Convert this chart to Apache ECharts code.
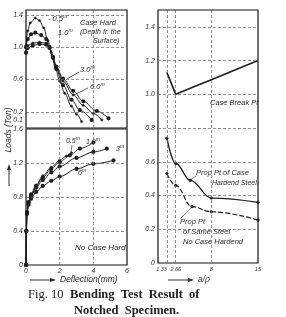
<!DOCTYPE html>
<html><head><meta charset="utf-8">
<script src="https://cdn.jsdelivr.net/npm/echarts@6/dist/echarts.min.js"></script>
<style>html,body{margin:0;padding:0;background:#fff}#c{width:286px;height:317px}</style>
</head><body><div id="c"></div>
<script>
// ---- Data: left top panel (Case Hard, depth from surface), Load (Ton) vs Deflection (mm)
const caseHard05 = [[0,1.02],[0.1,1.2],[0.25,1.3],[0.55,1.36],[0.8,1.33],[1.05,1.24],[1.3,1.08],[1.5,0.93],[1.75,0.74],[2.0,0.58],[2.3,0.43],[2.7,0.27],[3.0,0.17],[3.3,0.08]];
const caseHard10 = [[0,1.0],[0.1,1.1],[0.3,1.16],[0.55,1.18],[0.9,1.15],[1.2,1.1],[1.4,1.0],[1.6,0.87],[1.8,0.73],[2.2,0.53],[2.7,0.35],[3.2,0.22],[3.9,0.1]];
const caseHard30 = [[0,0.95],[0.1,1.02],[0.4,1.05],[0.8,1.06],[1.2,1.05],[1.4,1.0],[1.6,0.88],[1.8,0.75],[2.2,0.58],[2.8,0.41],[3.4,0.28],[4.0,0.18],[4.5,0.1]];
const caseHard60 = [[0,0.93],[0.1,0.99],[0.4,1.02],[0.8,1.04],[1.2,1.03],[1.4,0.99],[1.6,0.88],[1.8,0.76],[2.2,0.61],[2.8,0.46],[3.4,0.33],[4.2,0.21],[4.9,0.12]];
// ---- Data: left bottom panel (No Case Hard)
const noCase05 = [[0,0],[0.02,0.4],[0.06,0.62],[0.15,0.74],[0.3,0.83],[0.6,0.94],[1.0,1.05],[1.5,1.15],[2.0,1.23],[2.4,1.28],[2.7,1.32]];
const noCase10 = [[0,0],[0.02,0.4],[0.06,0.62],[0.15,0.74],[0.3,0.83],[0.6,0.93],[1.0,1.03],[1.5,1.13],[2.0,1.21],[2.6,1.29],[3.2,1.37],[4.0,1.44]];
const noCase30 = [[0,0],[0.02,0.4],[0.06,0.62],[0.15,0.73],[0.3,0.81],[0.6,0.91],[1.0,1.0],[1.5,1.09],[2.0,1.16],[3.0,1.26],[4.0,1.33],[4.8,1.37]];
const noCase60 = [[0,0],[0.02,0.4],[0.06,0.6],[0.15,0.71],[0.3,0.78],[0.6,0.86],[1.0,0.93],[1.5,0.99],[2.0,1.04],[3.0,1.13],[4.0,1.19],[5.2,1.23]];
// ---- Data: right panel, Load (Ton) vs a/rho
const breakX = [1.33, 2.66, 5.1, 8, 15];
const caseBreakPt = [1.13, 1.0, 1.04, 1.087, 1.2];
const propCaseX = [1.33, 2.66, 4.85, 8, 15];
const propCaseHard = [0.74, 0.59, 0.49, 0.385, 0.36];
const propNoCaseX = [1.33, 2.66, 5.1, 8, 15];
const propNoCase = [0.53, 0.46, 0.334, 0.304, 0.255];
// ---- Ticks
const leftXTicks = [0, 2, 4, 6];
const leftXLabels = ['0', '2', '4', '6'];
const topYTicks = [0.1, 0.2, 0.6, 1.0, 1.4];
const topYLabels = ['0.1', '0.2', '0.6', '1.0', '1.4'];
const topYGrid = [0.2, 0.6, 1.0, 1.4];
const botYTicks = [0, 0.4, 0.8, 1.2, 1.6];
const botYLabels = ['0', '0.4', '0.8', '1.2', '1.6'];
const botYGrid = [0.4, 0.8, 1.2];
const leftXGrid = [2, 4];
const rightXTicksA = [8, 15];
const rightXLabelsA = ['8', '15'];
const rightXTicksB = [1.33];
const rightXLabelsB = ['1.33'];
const rightXTicksC = [2.66];
const rightXLabelsC = ['2.66'];
const rightXGrid = [1.33, 2.66, 8];
const rightYTicks = [0, 0.2, 0.4, 0.6, 0.8, 1.0, 1.2, 1.4];
const rightYLabels = ['0', '0.2', '0.4', '0.6', '0.8', '1.0', '1.2', '1.4'];
const rightYGrid = [0.2, 0.4, 0.6, 0.8, 1.0, 1.2, 1.4];

const INK = '#1e1e1e';
const FONT = 'Liberation Sans';
const zip = (xs, ys) => xs.map((x, i) => [x, ys[i]]);
const lookup = (vals, labs) => v => { const i = vals.findIndex(t => Math.abs(t - v) < 1e-6); return i >= 0 ? labs[i] : ''; };

const axisLab = (vals, labs, extra) => Object.assign({
  customValues: vals, formatter: lookup(vals, labs), color: '#333',
  fontStyle: 'italic', fontSize: 7, fontFamily: FONT, margin: 3,
  hideOverlap: false, showMinLabel: true, showMaxLabel: true
}, extra || {});

const gridLines = (xs, ys) => ({
  silent: true, symbol: 'none', label: { show: false },
  lineStyle: { color: '#666', type: [3, 2], width: 0.7 },
  data: xs.map(x => ({ xAxis: x })).concat(ys.map(y => ({ yAxis: y })))
});

const lineSeries = (data, xi, yi, sym, opts) => Object.assign({
  type: 'line', data, xAxisIndex: xi, yAxisIndex: yi, smooth: 0.35, smoothMonotone: 'x',
  symbol: sym, symbolSize: 2.2, showSymbol: true,
  lineStyle: { color: INK, width: 1 }, itemStyle: { color: INK, borderColor: INK, borderWidth: 0.6 },
  animation: false, silent: true
}, opts || {});

const gridCommon = { show: true, borderColor: '#111', borderWidth: 1.2, backgroundColor: 'transparent', containLabel: false };
const bareAxis = { axisTick: { show: false }, splitLine: { show: false }, axisLine: { show: false } };

const txtFont = (sz) => 'italic ' + sz + 'px "' + FONT + '"';
const T = (x, y, text, sz, extra) => ({ type: 'text', x, y, silent: true,
  style: Object.assign({ text, fill: '#2a2a2a', font: txtFont(sz || 7.5), verticalAlign: 'middle', align: 'left',
    rich: { s: { font: txtFont(5), padding: [0, 0, 4, 0], fill: '#2a2a2a' } } }, extra || {}) });
const L = (pts, w) => ({ type: 'polyline', silent: true, shape: { points: pts }, style: { stroke: '#2a2a2a', lineWidth: w || 0.8, fill: null } });
const P = (pts) => ({ type: 'polygon', silent: true, shape: { points: pts }, style: { fill: '#2a2a2a' } });

const option = {
  backgroundColor: '#fff',
  animation: false,
  grid: [
    Object.assign({ left: 26, top: 10, width: 101, height: 118 }, gridCommon),
    Object.assign({ left: 26, top: 129, width: 101, height: 136 }, gridCommon),
    Object.assign({ left: 158, top: 10, width: 100, height: 253 }, gridCommon)
  ],
  xAxis: [
    Object.assign({ gridIndex: 0, type: 'value', min: 0, max: 6, axisLabel: { show: false } }, bareAxis),
    Object.assign({ gridIndex: 1, type: 'value', min: 0, max: 6, axisLabel: axisLab(leftXTicks, leftXLabels) }, bareAxis),
    Object.assign({ gridIndex: 2, type: 'value', min: 0, max: 15, axisLabel: axisLab(rightXTicksA, rightXLabelsA, { fontSize: 6 }) }, bareAxis),
    Object.assign({ gridIndex: 2, type: 'value', min: 0, max: 15, position: 'bottom', axisLabel: axisLab(rightXTicksB, rightXLabelsB, { fontSize: 5.5, align: 'right' }) }, bareAxis),
    Object.assign({ gridIndex: 2, type: 'value', min: 0, max: 15, position: 'bottom', axisLabel: axisLab(rightXTicksC, rightXLabelsC, { fontSize: 5.5 }) }, bareAxis)
  ],
  yAxis: [
    Object.assign({ gridIndex: 0, type: 'value', min: 0, max: 1.46, axisLabel: axisLab(topYTicks, topYLabels) }, bareAxis),
    Object.assign({ gridIndex: 1, type: 'value', min: 0, max: 1.6, axisLabel: axisLab(botYTicks, botYLabels) }, bareAxis),
    Object.assign({ gridIndex: 2, type: 'value', min: 0, max: 1.5, axisLabel: axisLab(rightYTicks, rightYLabels) }, bareAxis)
  ],
  series: [
    lineSeries(caseHard05, 0, 0, 'circle', { markLine: gridLines(leftXGrid, topYGrid) }),
    lineSeries(caseHard10, 0, 0, 'emptyCircle'),
    lineSeries(caseHard30, 0, 0, 'circle'),
    lineSeries(caseHard60, 0, 0, 'emptyCircle'),
    lineSeries(noCase05, 1, 1, 'circle', { markLine: gridLines(leftXGrid, botYGrid), lineStyle: { color: INK, width: 0.9 } }),
    lineSeries(noCase10, 1, 1, 'emptyCircle', { lineStyle: { color: INK, width: 0.9 } }),
    lineSeries(noCase30, 1, 1, 'emptyCircle'),
    lineSeries(noCase60, 1, 1, 'emptyCircle'),
    lineSeries(zip(breakX, caseBreakPt), 2, 2, 'none', { smooth: false, lineStyle: { color: INK, width: 1.6 }, markLine: gridLines(rightXGrid, rightYGrid) }),
    lineSeries(zip(propCaseX, propCaseHard), 2, 2, 'circle', { smooth: 0.4, symbolSize: 2.6, lineStyle: { color: INK, width: 1.3 } }),
    lineSeries(zip(propNoCaseX, propNoCase), 2, 2, 'circle', { smooth: 0.4, symbolSize: 2.6, lineStyle: { color: INK, width: 1.2, type: [5, 2] } })
  ],
  graphic: [
    // left top labels
    T(48, 19, '- 0.5{s|m}', 7.5),
    T(58, 33, '1.0{s|m}', 7.5),
    T(80, 23, 'Case Hard', 7.5),
    T(80, 32, '(Depth fr. the', 7),
    T(93, 41, 'Surface)', 7),
    T(80, 70, '3.0{s|m}', 7.5), L([[67, 79], [79, 72]]),
    T(90, 87, '6.0{s|m}', 7.5), L([[74, 95], [88, 88]]),
    // left bottom labels
    T(66, 141, '0.5{s|m}', 7), L([[71, 152], [72, 145]], 0.6),
    T(86, 142, '1.0{s|m}', 7),
    T(116, 149, '3{s|m}', 7),
    T(78, 173, '6{s|m}', 7),
    T(75, 248, 'No Case Hard', 8),
    // right panel labels
    T(210, 103, 'Case Break Pt', 7.5),
    T(196, 173, 'Prop Pt of Case', 7.5), L([[190, 180], [196, 176]], 0.6),
    T(212, 183, 'Hardend Steel', 7),
    T(180, 222, 'Prop Pt', 7.5), L([[181, 218], [192, 207]], 0.6),
    T(183, 232, 'of Same Steel', 7.5),
    T(183, 242, 'No Case Hardend', 7.5),
    // axis titles
    L([[30, 280], [52, 280]], 1), P([[50, 278], [56, 280], [50, 282]]),
    T(60, 280, 'Deflection(mm)', 8.5),
    L([[168, 280], [190, 280]], 1), P([[188, 278], [194, 280], [188, 282]]),
    T(198, 280, 'a/ρ', 8.5),
    { type: 'text', x: 9, y: 130, rotation: Math.PI / 2, silent: true,
      style: { text: 'Loads (Ton)', fill: '#2a2a2a', font: txtFont(8.5), align: 'center', verticalAlign: 'middle' } },
    L([[9, 186], [9, 168]], 1), P([[7, 170], [9, 164], [11, 170]]),
    // caption
    { type: 'text', x: 28, y: 295, silent: true,
      style: { text: '{r|Fig. 10}  {b|Bending  Test  Result  of}', verticalAlign: 'middle',
        rich: { r: { font: '12.5px "Liberation Serif"', fill: '#222' }, b: { font: 'bold 12.5px "Liberation Serif"', fill: '#222' } } } },
    { type: 'text', x: 74, y: 311, silent: true,
      style: { text: 'Notched  Specimen.', verticalAlign: 'middle', font: 'bold 12.5px "Liberation Serif"', fill: '#222' } }
  ]
};
const chart = echarts.init(document.getElementById('c'), null, { renderer: 'canvas' });
chart.setOption(option);
</script>
</body></html>
